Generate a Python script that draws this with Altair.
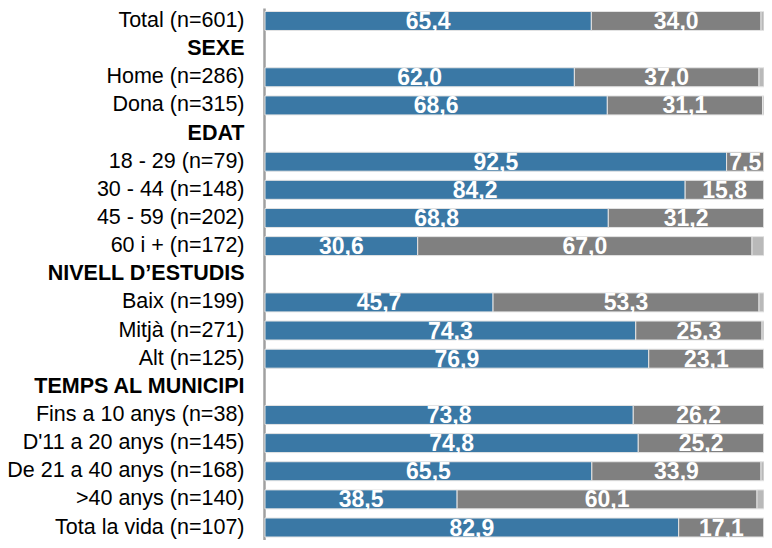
import altair as alt
import pandas as pd

categories = ["Total (n=601)", "SEXE", "Home (n=286)", "Dona (n=315)", "EDAT",
              "18 - 29 (n=79)", "30 - 44 (n=148)", "45 - 59 (n=202)", "60 i + (n=172)",
              "NIVELL D’ESTUDIS", "Baix (n=199)", "Mitjà (n=271)", "Alt (n=125)",
              "TEMPS AL MUNICIPI", "Fins a 10 anys (n=38)", "D'11 a 20 anys (n=145)",
              "De 21 a 40 anys (n=168)", ">40 anys (n=140)", "Tota la vida (n=107)"]
headers = ["SEXE", "EDAT", "NIVELL D’ESTUDIS", "TEMPS AL MUNICIPI"]

first = [65.4, None, 62.0, 68.6, None, 92.5, 84.2, 68.8, 30.6, None, 45.7, 74.3, 76.9,
         None, 73.8, 74.8, 65.5, 38.5, 82.9]
second = [34.0, None, 37.0, 31.1, None, 7.5, 15.8, 31.2, 67.0, None, 53.3, 25.3, 23.1,
          None, 26.2, 25.2, 33.9, 60.1, 17.1]
third = [0.6, None, 1.0, 0.3, None, 0.0, 0.0, 0.0, 2.4, None, 1.0, 0.4, 0.0,
         None, 0.0, 0.0, 0.6, 1.4, 0.0]

series_colors = ["#3a78a5", "#808080", "#b9b9b9"]

rows = []
for i, c in enumerate(categories):
    if first[i] is None:
        continue
    for k, vals in enumerate([first, second, third]):
        rows.append({"cat": c, "serie": k, "value": vals[i]})
df = pd.DataFrame(rows)

head_list = "[" + ",".join("'" + h + "'" for h in headers) + "]"
is_head = f"indexof({head_list}, datum.value) >= 0"

y = alt.Y(
    "cat:N",
    scale=alt.Scale(domain=categories, range=[0, 532.5], paddingInner=0.325, paddingOuter=0.124),
    axis=alt.Axis(
        title=None, ticks=False, grid=False, labelPadding=20, offset=1,
        domainColor="#a0a0a0", domainWidth=2.5,
        labelFont="Liberation Sans", labelFontSize=21.5, labelColor="black", labelLimit=0,
        labelFontWeight={"condition": {"test": is_head, "value": "bold"}, "value": "normal"},
        labelExpr=f"{is_head} ? datum.value + '\u00a0\u00a0' : datum.value",
    ),
)

xscale = alt.Scale(domain=[0, 100], nice=False, zero=True)

base = alt.Chart(df).transform_stack(
    stack="value", groupby=["cat"], as_=["x0", "x1"],
    sort=[alt.SortField("serie", order="ascending")],
)

bars = base.mark_bar(stroke="#e4e4e4", strokeWidth=1).encode(
    x=alt.X("x0:Q", scale=xscale, axis=None),
    x2="x1:Q",
    y=y,
    color=alt.Color("serie:N", scale=alt.Scale(domain=[0, 1, 2], range=series_colors), legend=None),
)

text = base.transform_filter("datum.serie < 2 && datum.value > 0").transform_calculate(
    mid="(datum.x0 + datum.x1) / 2",
    label="replace(format(datum.value, '.1f'), '.', ',')",
).mark_text(
    font="Liberation Sans", fontSize=23, fontWeight="bold", color="white",
    baseline="alphabetic", align="center", dy=8,
).encode(
    x=alt.X("mid:Q", scale=xscale, axis=None),
    y=y,
    text="label:N",
)

chart = alt.layer(bars, text).properties(
    width=499, height=532,
    autosize=alt.AutoSizeParams(type="none"),
    padding={"left": 257, "top": 0, "right": 0, "bottom": 0},
).configure_view(stroke=None)

chart.save("out.html", embed_options={"renderer": "svg", "actions": False})
